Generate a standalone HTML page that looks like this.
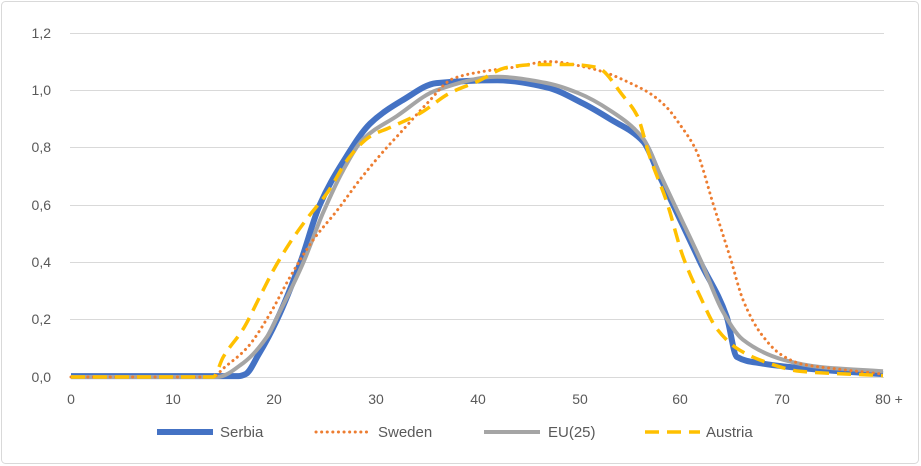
<!DOCTYPE html>
<html><head><meta charset="utf-8"><style>
html,body{margin:0;padding:0;background:#fff}
svg{display:block;font-family:"Liberation Sans",sans-serif}
</style></head><body>
<svg width="921" height="466" viewBox="0 0 921 466" xmlns="http://www.w3.org/2000/svg">
<rect x="1.5" y="1.5" width="917" height="462" rx="4" fill="#fff" stroke="#d9d9d9"/>
<g stroke="#d9d9d9" stroke-width="1">
<line x1="70" x2="884" y1="33.5" y2="33.5"/>
<line x1="70" x2="884" y1="90.5" y2="90.5"/>
<line x1="70" x2="884" y1="147.5" y2="147.5"/>
<line x1="70" x2="884" y1="205.5" y2="205.5"/>
<line x1="70" x2="884" y1="262.5" y2="262.5"/>
<line x1="70" x2="884" y1="319.5" y2="319.5"/>
<line x1="70" x2="884" y1="377.5" y2="377.5"/>
</g>
<g fill="#595959" font-size="14" text-anchor="end">
<text x="51" y="38">1,2</text><text x="51" y="95">1,0</text><text x="51" y="152">0,8</text>
<text x="51" y="210">0,6</text><text x="51" y="267">0,4</text><text x="51" y="324">0,2</text><text x="51" y="382">0,0</text>
</g>
<g fill="#595959" font-size="14" text-anchor="middle">
<text x="71" y="404">0</text><text x="173" y="404">10</text><text x="274" y="404">20</text><text x="376" y="404">30</text>
<text x="478" y="404">40</text><text x="580" y="404">50</text><text x="680" y="404">60</text><text x="782" y="404">70</text>
<text x="889" y="404">80 +</text>
</g>
<g fill="none" stroke-linejoin="round">
<path id="serbia" stroke="#4472C4" stroke-width="6" d=""/>
<path id="eu" stroke="#A5A5A5" stroke-width="4" d=""/>
<path id="sweden" stroke="#ED7D31" stroke-width="3" stroke-dasharray="0.1 5.5" stroke-linecap="round" d=""/>
<path id="austria" stroke="#FFC000" stroke-width="3.5" stroke-dasharray="14 8" d=""/>
</g>
<g font-size="15" fill="#595959">
<line x1="157" x2="213" y1="432" y2="432" stroke="#4472C4" stroke-width="6"/>
<text x="220" y="437">Serbia</text>
<line x1="316" x2="372" y1="432" y2="432" stroke="#ED7D31" stroke-width="3" stroke-dasharray="0.1 5.5" stroke-linecap="round"/>
<text x="378" y="437">Sweden</text>
<line x1="484" x2="540" y1="432" y2="432" stroke="#A5A5A5" stroke-width="4"/>
<text x="548" y="437">EU(25)</text>
<line x1="645" x2="700" y1="432" y2="432" stroke="#FFC000" stroke-width="3.5" stroke-dasharray="14 8"/>
<text x="706" y="437">Austria</text>
</g>
</svg>
<script>
function path(d){
 var p=d.map(function(q){return [71+q[0]*10.15,377-q[1]*286.7]});
 var n=p.length,dl=[],m=[];
 for(var i=0;i<n-1;i++)dl.push((p[i+1][1]-p[i][1])/(p[i+1][0]-p[i][0]));
 m[0]=dl[0];m[n-1]=dl[n-2];
 for(i=1;i<n-1;i++){ if(dl[i-1]*dl[i]<=0)m[i]=0; else { var h0=p[i][0]-p[i-1][0],h1=p[i+1][0]-p[i][0];
   var w1=2*h1+h0,w2=h1+2*h0; m[i]=(w1+w2)/(w1/dl[i-1]+w2/dl[i]); } }
 var s="M"+p[0][0].toFixed(1)+","+p[0][1].toFixed(1);
 for(i=0;i<n-1;i++){var h=(p[i+1][0]-p[i][0])/3;
  s+="C"+(p[i][0]+h).toFixed(1)+","+(p[i][1]+m[i]*h).toFixed(1)+" "+(p[i+1][0]-h).toFixed(1)+","+(p[i+1][1]-m[i+1]*h).toFixed(1)+" "+p[i+1][0].toFixed(1)+","+p[i+1][1].toFixed(1);}
 return s;
}
var S=[[0,0.003],[16.5,0.003],[17.2,0.01],[18.5,0.08],[20.3,0.2],[22.6,0.4],[24.5,0.6],[26.8,0.75],[29.5,0.885],[32.7,0.966],[36,1.025],[42,1.035],[46.9,1.01],[50.4,0.955],[53.1,0.9],[56.4,0.82],[58,0.7],[60,0.55],[62,0.4],[64.6,0.21],[65.6,0.07],[67.9,0.048],[73.8,0.025],[80,0.01]];
var W=[[0,0],[14,0],[15,0.03],[17.3,0.1],[19.6,0.22],[21.6,0.35],[23.9,0.48],[26.2,0.58],[28.5,0.69],[31.1,0.8],[32.4,0.85],[35.1,0.955],[37.6,1.04],[40.3,1.064],[43.5,1.08],[47.2,1.1],[50.8,1.08],[52.8,1.06],[55.1,1.025],[57,0.99],[58.7,0.94],[60,0.88],[61.6,0.79],[63.3,0.6],[65,0.41],[66.2,0.27],[68,0.15],[70,0.077],[72,0.045],[75,0.03],[80,0.01]];
var E=[[0,0],[14.4,0],[17,0.05],[19.3,0.14],[20.6,0.23],[22.9,0.4],[24.8,0.57],[26.8,0.72],[28.8,0.83],[32.1,0.91],[36,1.0],[42,1.047],[46.9,1.025],[50,0.99],[53.1,0.93],[56.4,0.83],[58,0.71],[60,0.56],[62,0.41],[64.2,0.23],[66.2,0.13],[70.2,0.06],[73.8,0.035],[80,0.02]];
var A=[[0,0],[14,0],[15,0.07],[17,0.17],[18.6,0.28],[19.9,0.37],[21.6,0.47],[23.2,0.55],[25.2,0.64],[27.5,0.77],[29.5,0.84],[31.4,0.87],[34.4,0.92],[37.3,0.99],[40,1.03],[43,1.08],[45.9,1.09],[49.2,1.09],[51.8,1.08],[54.4,0.98],[55.8,0.91],[57,0.77],[58.7,0.61],[60.3,0.42],[62,0.28],[63.6,0.17],[65.6,0.1],[68.6,0.05],[71.8,0.02],[80,0.005]];
document.getElementById("serbia").setAttribute("d",path(S));
document.getElementById("sweden").setAttribute("d",path(W));
document.getElementById("eu").setAttribute("d",path(E));
document.getElementById("austria").setAttribute("d",path(A));
</script>
</body></html>
